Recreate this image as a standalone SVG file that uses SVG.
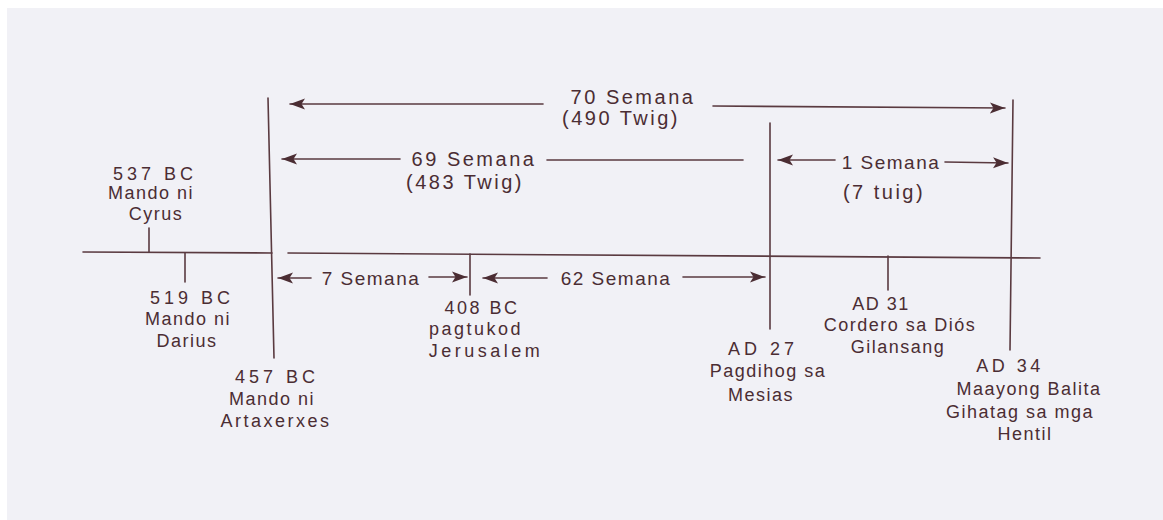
<svg xmlns="http://www.w3.org/2000/svg" width="1163" height="520" viewBox="0 0 1163 520">
<style>
.t{font-family:"Liberation Sans",Arial,sans-serif;font-size:18px;letter-spacing:1.5px;fill:#4b2d33;text-anchor:middle}
.s{font-size:20px;letter-spacing:2.5px}
.m{font-size:19px;letter-spacing:1.5px}
.l{stroke:#5a3a40;stroke-width:1.6;fill:none;stroke-linecap:round}
</style>
<defs>
<marker id="ah" markerUnits="userSpaceOnUse" markerWidth="16" markerHeight="12" refX="15" refY="6" orient="auto" viewBox="0 0 16 12">
<path d="M0,0.5 L15,6 L0,11.5 L3.5,6 Z" fill="#4b2d33"/>
</marker>
</defs>
<rect x="0" y="0" width="1163" height="520" fill="#ffffff"/>
<rect x="7" y="8" width="1156" height="512" fill="#f1f1f6"/>
<g id="connectors">
<line class="l" x1="83" y1="252" x2="272" y2="253"/>
<line class="l" x1="288" y1="253" x2="1040" y2="258"/>
<line class="l" x1="268" y1="98" x2="274" y2="358"/>
<line class="l" x1="770" y1="123" x2="770" y2="329"/>
<line class="l" x1="1013" y1="100" x2="1010" y2="350"/>
<line class="l" x1="149" y1="228" x2="149" y2="252"/>
<line class="l" x1="185" y1="253" x2="185" y2="282"/>
<line class="l" x1="470" y1="254" x2="470" y2="295"/>
<line class="l" x1="888" y1="256" x2="888" y2="290"/>
<line class="l" x1="543" y1="104" x2="290" y2="104" marker-end="url(#ah)"/>
<line class="l" x1="713" y1="106" x2="1005" y2="108" marker-end="url(#ah)"/>
<line class="l" x1="400" y1="159" x2="282" y2="159" marker-end="url(#ah)"/>
<line class="l" x1="547" y1="160" x2="743" y2="160"/>
<line class="l" x1="835" y1="160" x2="778" y2="160" marker-end="url(#ah)"/>
<line class="l" x1="945" y1="162" x2="1008" y2="163" marker-end="url(#ah)"/>
<line class="l" x1="311" y1="278" x2="278" y2="278" marker-end="url(#ah)"/>
<line class="l" x1="429" y1="277" x2="467" y2="277" marker-end="url(#ah)"/>
<line class="l" x1="547" y1="278" x2="483" y2="278" marker-end="url(#ah)"/>
<line class="l" x1="683" y1="277" x2="765" y2="277" marker-end="url(#ah)"/>
</g>
<g id="span70">
<text class="t s" x="633" y="104">70 Semana</text>
<text class="t s" x="621" y="125">(490 Twig)</text>
</g>
<g id="span69">
<text class="t s" x="474" y="166">69 Semana</text>
<text class="t s" x="465" y="189">(483 Twig)</text>
</g>
<g id="span1">
<text class="t m" x="891" y="169">1 Semana</text>
<text class="t s" x="884" y="199">(7 tuig)</text>
</g>
<g id="span7">
<text class="t m" x="371" y="285">7 Semana</text>
</g>
<g id="span62">
<text class="t m" x="616" y="285">62 Semana</text>
</g>
<g id="n537">
<text class="t" x="155" y="180" style="letter-spacing:4px">537 BC</text>
<text class="t" x="151" y="199">Mando ni</text>
<text class="t" x="156" y="220">Cyrus</text>
</g>
<g id="n519">
<text class="t" x="192" y="304" style="letter-spacing:4px">519 BC</text>
<text class="t" x="188" y="325">Mando ni</text>
<text class="t" x="187" y="347">Darius</text>
</g>
<g id="n457">
<text class="t" x="277" y="383" style="letter-spacing:4px">457 BC</text>
<text class="t" x="272" y="405">Mando ni</text>
<text class="t" x="276" y="427" style="letter-spacing:2.5px">Artaxerxes</text>
</g>
<g id="n408">
<text class="t" x="482" y="314" style="letter-spacing:2.5px">408 BC</text>
<text class="t" x="476" y="335" style="letter-spacing:2.5px">pagtukod</text>
<text class="t" x="486" y="357" style="letter-spacing:3.5px">Jerusalem</text>
</g>
<g id="nAD27">
<text class="t" x="763" y="355" style="letter-spacing:4px">AD 27</text>
<text class="t" x="768" y="377">Pagdihog sa</text>
<text class="t" x="761" y="401">Mesias</text>
</g>
<g id="nAD31">
<text class="t" x="881" y="310">AD 31</text>
<text class="t" x="900" y="331">Cordero sa Diós</text>
<text class="t" x="898" y="353">Gilansang</text>
</g>
<g id="nAD34">
<text class="t" x="1010" y="372" style="letter-spacing:3.5px">AD 34</text>
<text class="t" x="1029" y="395">Maayong Balita</text>
<text class="t" x="1020" y="418">Gihatag sa mga</text>
<text class="t" x="1025" y="440">Hentil</text>
</g>
</svg>
